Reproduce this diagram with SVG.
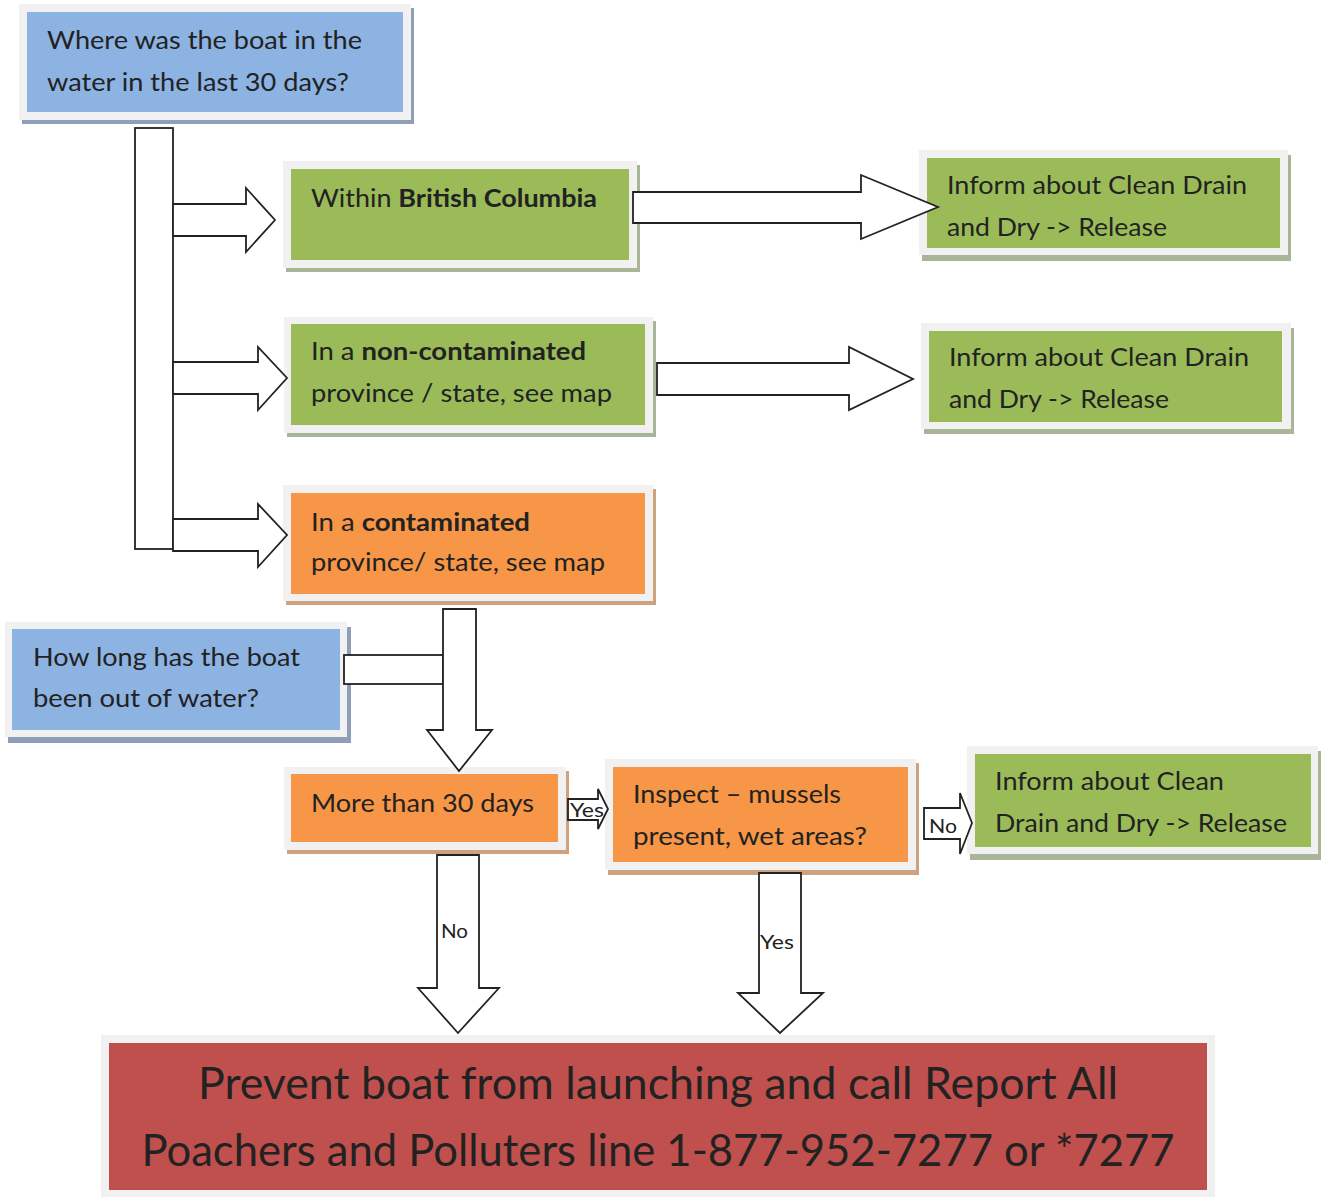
<svg xmlns="http://www.w3.org/2000/svg" width="1322" height="1197" viewBox="0 0 1322 1197">
<style>
.frame{fill:#f1f1f1}
.sb{fill:#8e9fb7}.sg{fill:#a8b596}.so{fill:#cfa27f}.sr{fill:#d0a8a6}
.fb{fill:#8db3e2}.fg{fill:#9bbb59}.fo{fill:#f79646}.fr{fill:#c0504d}
.t{font-family:Lato,"Open Sans","Liberation Sans",sans-serif;font-size:25px;fill:#222}
.big{font-family:Lato,"Open Sans","Liberation Sans",sans-serif;font-size:44px;fill:#222}
.lbl{font-family:Lato,"Open Sans","Liberation Sans",sans-serif;font-size:19px;fill:#222}
.b{font-weight:bold}
.arr{fill:#fff;stroke:#222;stroke-width:1.8;stroke-linejoin:miter}
</style>
<rect width="1322" height="1197" fill="#fff"/>

<g id="n1">
  <rect class="sb" x="22" y="8" width="392" height="116"/>
  <rect class="frame" x="19" y="4" width="392" height="116"/>
  <rect class="fb" x="27" y="12" width="376" height="100"/>
  <text class="t" x="47" y="49" textLength="315" lengthAdjust="spacingAndGlyphs">Where was the boat in the</text>
  <text class="t" x="47" y="91" textLength="302" lengthAdjust="spacingAndGlyphs">water in the last 30 days?</text>
</g>

<g id="n2">
  <rect class="sg" x="286" y="165" width="354" height="107"/>
  <rect class="frame" x="283" y="161" width="354" height="107"/>
  <rect class="fg" x="291" y="169" width="338" height="91"/>
  <text class="t" x="311" y="207" textLength="286" lengthAdjust="spacingAndGlyphs">Within <tspan class="b">British Columbia</tspan></text>
</g>

<g id="n3">
  <rect class="sg" x="922" y="155" width="369" height="106"/>
  <rect class="frame" x="919" y="150" width="369" height="105"/>
  <rect class="fg" x="927" y="158" width="353" height="90"/>
  <text class="t" x="947" y="194" textLength="300" lengthAdjust="spacingAndGlyphs">Inform about Clean Drain</text>
  <text class="t" x="947" y="236" textLength="220" lengthAdjust="spacingAndGlyphs">and Dry -&gt; Release</text>
</g>

<g id="n4">
  <rect class="sg" x="287" y="321" width="369" height="116"/>
  <rect class="frame" x="284" y="317" width="369" height="116"/>
  <rect class="fg" x="291" y="324" width="354" height="101"/>
  <text class="t" x="311" y="360" textLength="275" lengthAdjust="spacingAndGlyphs">In a <tspan class="b">non-contaminated</tspan></text>
  <text class="t" x="311" y="402" textLength="301" lengthAdjust="spacingAndGlyphs">province / state, see map</text>
</g>

<g id="n5">
  <rect class="sg" x="924" y="328" width="370" height="106"/>
  <rect class="frame" x="921" y="323" width="370" height="106"/>
  <rect class="fg" x="929" y="331" width="353" height="91"/>
  <text class="t" x="949" y="366" textLength="300" lengthAdjust="spacingAndGlyphs">Inform about Clean Drain</text>
  <text class="t" x="949" y="408" textLength="220" lengthAdjust="spacingAndGlyphs">and Dry -&gt; Release</text>
</g>

<g id="n6">
  <rect class="so" x="286" y="489" width="370" height="116"/>
  <rect class="frame" x="283" y="485" width="370" height="116"/>
  <rect class="fo" x="291" y="493" width="354" height="101"/>
  <text class="t" x="311" y="531" textLength="219" lengthAdjust="spacingAndGlyphs">In a <tspan class="b">contaminated</tspan></text>
  <text class="t" x="311" y="571" textLength="294" lengthAdjust="spacingAndGlyphs">province/ state, see map</text>
</g>

<g id="n7">
  <rect class="sb" x="8" y="627" width="343" height="116"/>
  <rect class="frame" x="5" y="622" width="342" height="115"/>
  <rect class="fb" x="12" y="629" width="328" height="101"/>
  <text class="t" x="33" y="666" textLength="267" lengthAdjust="spacingAndGlyphs">How long has the boat</text>
  <text class="t" x="33" y="707" textLength="226" lengthAdjust="spacingAndGlyphs">been out of water?</text>
</g>

<g id="n8">
  <rect class="so" x="287" y="771" width="282" height="83"/>
  <rect class="frame" x="284" y="767" width="282" height="83"/>
  <rect class="fo" x="291" y="774" width="267" height="68"/>
  <text class="t" x="311" y="812" textLength="223" lengthAdjust="spacingAndGlyphs">More than 30 days</text>
</g>

<g id="n9">
  <rect class="so" x="608" y="763" width="311" height="112"/>
  <rect class="frame" x="605" y="759" width="311" height="111"/>
  <rect class="fo" x="613" y="767" width="295" height="95"/>
  <text class="t" x="633" y="803" textLength="208" lengthAdjust="spacingAndGlyphs">Inspect – mussels</text>
  <text class="t" x="633" y="845" textLength="234" lengthAdjust="spacingAndGlyphs">present, wet areas?</text>
</g>

<g id="n10">
  <rect class="sg" x="970" y="751" width="351" height="109"/>
  <rect class="frame" x="967" y="746" width="351" height="108"/>
  <rect class="fg" x="975" y="754" width="336" height="93"/>
  <text class="t" x="995" y="790" textLength="229" lengthAdjust="spacingAndGlyphs">Inform about Clean</text>
  <text class="t" x="995" y="832" textLength="292" lengthAdjust="spacingAndGlyphs">Drain and Dry -&gt; Release</text>
</g>

<g id="n11">
  <rect class="frame" x="101" y="1035" width="1114" height="162"/>
  <rect class="fr" x="109" y="1043" width="1098" height="147"/>
  <text class="big" x="658" y="1099" text-anchor="middle" textLength="920" lengthAdjust="spacingAndGlyphs">Prevent boat from launching and call Report All</text>
  <text class="big" x="658" y="1166" text-anchor="middle" textLength="1033" lengthAdjust="spacingAndGlyphs">Poachers and Polluters line 1-877-952-7277 or *7277</text>
</g>

<g id="connectors">
  <rect class="arr" x="135" y="128" width="38" height="421"/>
  <polygon class="arr" points="173,204 246,204 246,188 275,220 246,252 246,236 173,236"/>
  <polygon class="arr" points="173,362 258,362 258,347 287,378 258,410 258,394 173,394"/>
  <polygon class="arr" points="173,519 258,519 258,504 287,535 258,567 258,551 173,551"/>
  <polygon class="arr" points="633,192 861,192 861,175 938,207 861,239 861,223 633,223"/>
  <polygon class="arr" points="657,363 849,363 849,347 913,379 849,410 849,395 657,395"/>
  <rect class="arr" x="344" y="655" width="99" height="29"/>
  <polygon class="arr" points="443,609 476,609 476,730 492,730 459,771 427,730 443,730"/>
  <polygon class="arr" points="568,799 598,799 598,789 608,809 598,829 598,820 568,820"/>
  <text class="lbl" x="570" y="817" textLength="34" lengthAdjust="spacingAndGlyphs">Yes</text>
  <polygon class="arr" points="924,808 960,808 960,793 972,823 960,854 960,839 924,839"/>
  <text class="lbl" x="929" y="833" textLength="28" lengthAdjust="spacingAndGlyphs">No</text>
  <polygon class="arr" points="437,855 479,855 479,988 499,988 458,1033 418,988 437,988"/>
  <text class="lbl" x="441" y="938" textLength="27" lengthAdjust="spacingAndGlyphs">No</text>
  <polygon class="arr" points="759,873 801,873 801,993 823,993 780,1033 738,993 759,993"/>
  <text class="lbl" x="760" y="949" textLength="34" lengthAdjust="spacingAndGlyphs">Yes</text>
</g>
</svg>
